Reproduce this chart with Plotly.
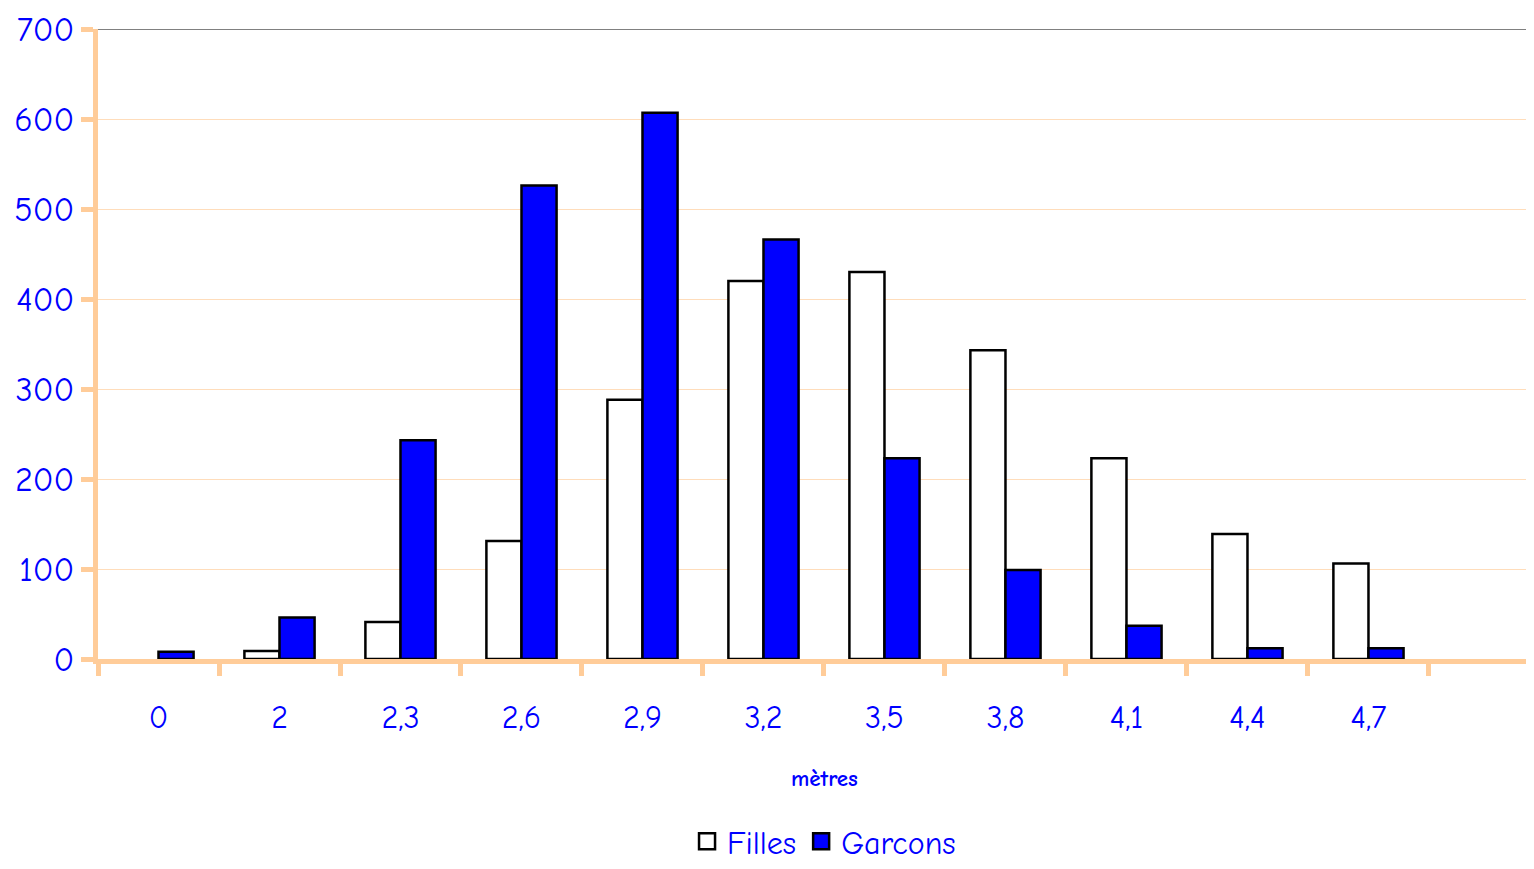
import plotly.graph_objects as go

categories = ["0", "2", "2,3", "2,6", "2,9", "3,2", "3,5", "3,8", "4,1", "4,4", "4,7"]
filles = [0, 9, 41, 131, 288, 420, 430, 343, 223, 139, 106]
garcons = [8, 46, 243, 526, 607, 466, 223, 99, 37, 12, 12]
y_ticks = [0, 100, 200, 300, 400, 500, 600, 700]

FONT = "Comic Sans MS, Comic Neue, Lato, sans-serif"
BLUE = "#0000FF"
PEACH = "#FFCC99"

fig = go.Figure()
fig.add_trace(go.Bar(x=categories, y=filles, name="Filles", showlegend=False,
                     legendgroup="f",
                     marker=dict(color="white",
                                 line=dict(color="black",
                                           width=[0 if v == 0 else 2.5 for v in filles]))))
fig.add_trace(go.Bar(x=categories, y=garcons, name="Garcons", showlegend=False,
                     legendgroup="g",
                     marker=dict(color=BLUE,
                                 line=dict(color="black",
                                           width=[0 if v == 0 else 2.5 for v in garcons]))))
# legend entries with larger square symbols
fig.add_trace(go.Scatter(x=[None], y=[None], mode="markers", name="Filles", legendgroup="f",
                         marker=dict(symbol="square", size=16, color="white",
                                     line=dict(color="black", width=2.5))))
fig.add_trace(go.Scatter(x=[None], y=[None], mode="markers", name="Garcons", legendgroup="g",
                         marker=dict(symbol="square", size=16, color=BLUE,
                                     line=dict(color="black", width=2.5))))

fig.add_shape(type="line", xref="paper", yref="y", x0=0, x1=1, y0=700, y1=700,
              line=dict(color="#808080", width=2), layer="above")

fig.add_annotation(text="<b>mètres</b>", xref="paper", yref="paper",
                   x=0.5056, y=-0.189, xanchor="center", yanchor="middle",
                   showarrow=False, font=dict(family=FONT, size=23, color=BLUE))

fig.update_layout(
    width=1526, height=861,
    margin=dict(l=90, r=0, t=21, b=210),
    paper_bgcolor="white", plot_bgcolor="white",
    barmode="group", bargap=0.42, bargroupgap=0,
    font=dict(family=FONT, color=BLUE),
    showlegend=True,
    legend=dict(orientation="h", xref="paper", yref="container",
                x=0.5056, y=-0.01, xanchor="center", yanchor="bottom",
                font=dict(family=FONT, size=32, color=BLUE), itemwidth=30,
                traceorder="normal"),
    xaxis=dict(type="category", range=[-0.5, 11.368], tickson="boundaries",
               ticks="outside", ticklen=12, tickwidth=5, tickcolor=PEACH,
               showline=True, linecolor=PEACH, linewidth=5,
               showgrid=False, zeroline=False,
               tickfont=dict(family=FONT, size=32, color=BLUE),
               ticklabelstandoff=26),
    yaxis=dict(range=[0, 700], tickvals=y_ticks,
               ticks="outside", ticklen=12, tickwidth=5, tickcolor=PEACH,
               showline=True, linecolor=PEACH, linewidth=5,
               showgrid=True, gridcolor="#FFDDBB", gridwidth=1,
               zeroline=False,
               tickfont=dict(family=FONT, size=34, color=BLUE)),
)

fig.write_html("out.html")
